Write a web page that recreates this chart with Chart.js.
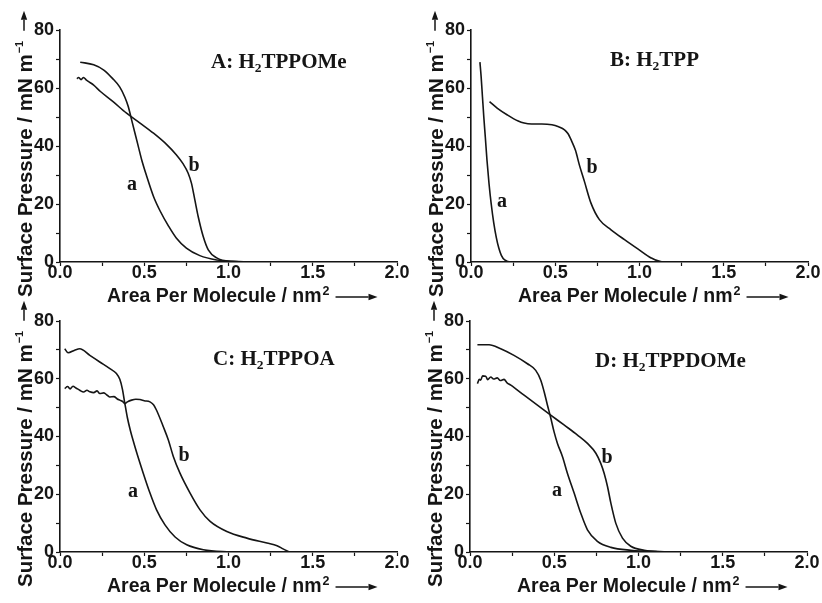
<!DOCTYPE html>
<html>
<head>
<meta charset="utf-8">
<script src="https://cdn.jsdelivr.net/npm/chart.js@4"></script>
<style>
  html, body { margin:0; padding:0; background:#fff; }
  #wrap { position:relative; width:822px; height:603px; overflow:hidden; }
  canvas { position:absolute; }
</style>
</head>
<body>
<div id="wrap">
  <canvas id="cA" width="411" height="310" style="left:0;top:0"></canvas>
  <canvas id="cB" width="411" height="310" style="left:411px;top:0"></canvas>
  <canvas id="cC" width="411" height="303" style="left:0;top:300px"></canvas>
  <canvas id="cD" width="411" height="303" style="left:410px;top:300px"></canvas>
</div>
<script>
/* ---------- data ---------- */
const xTickLabels = ["0.0", "0.5", "1.0", "1.5", "2.0"];
const yTickLabels = ["0", "20", "40", "60", "80"];
const panelLetters   = ["A", "B", "C", "D"];
const panelCompounds = ["TPPOMe", "TPP", "TPPOA", "TPPDOMe"];

// A: H2TPPOMe
const aArea_A  = [0.12, 0.2, 0.26, 0.31, 0.355, 0.385, 0.405, 0.425, 0.445, 0.465, 0.485, 0.515, 0.555, 0.595, 0.645, 0.69, 0.75, 0.83, 0.93, 1.03, 1.15, 1.85];
const aPress_A = [68.9, 68.0, 66.2, 63.4, 60.3, 56.8, 53.6, 49.0, 44.4, 39.8, 35.2, 29.5, 22.6, 17.5, 12.3, 8.3, 4.8, 2.2, 0.7, 0.2, 0, 0];
const bArea_A  = [0.10, 0.11, 0.125, 0.14, 0.155, 0.17, 0.2, 0.24, 0.315, 0.395, 0.475, 0.555, 0.635, 0.69, 0.73, 0.76, 0.78, 0.80, 0.82, 0.85, 0.88, 0.93, 1.01, 1.13, 1.85];
const bPress_A = [63.2, 63.6, 62.9, 63.6, 62.8, 62.2, 61.0, 58.8, 55.3, 51.3, 47.9, 44.4, 40.4, 37.0, 33.9, 30.7, 27.2, 21.5, 15.7, 8.8, 4.2, 1.4, 0.2, 0, 0];

// B: H2TPP
const aArea_B  = [0.053, 0.06, 0.068, 0.076, 0.085, 0.095, 0.107, 0.12, 0.135, 0.15, 0.165, 0.18, 0.2, 0.24, 0.58];
const aPress_B = [68.9, 64, 57, 50, 43, 35, 27, 20, 13.5, 8.5, 4.8, 2.3, 0.7, 0, 0];
const bArea_B  = [0.11, 0.157, 0.216, 0.28, 0.315, 0.36, 0.42, 0.48, 0.52, 0.555, 0.575, 0.595, 0.62, 0.643, 0.673, 0.712, 0.762, 0.831, 0.911, 0.99, 1.069, 1.139, 1.3];
const bPress_B = [55.3, 53.0, 50.7, 48.6, 47.9, 47.6, 47.6, 47.3, 46.6, 45.6, 44.3, 42.0, 38.5, 33.5, 27.8, 20.3, 14.6, 11.1, 7.7, 4.5, 1.4, 0, 0];

// C: H2TPPOA
const aArea_C  = [0.028, 0.048, 0.087, 0.117, 0.177, 0.236, 0.296, 0.335, 0.355, 0.37, 0.385, 0.40, 0.418, 0.437, 0.46, 0.494, 0.534, 0.573, 0.623, 0.683, 0.752, 0.851, 0.99, 1.07, 1.5];
const aPress_C = [70.4, 69.0, 69.9, 70.4, 68.1, 65.8, 63.5, 61.8, 59.8, 56.5, 51.4, 46.5, 42.0, 38.0, 33.5, 27.3, 20.4, 14.6, 9.4, 5.2, 2.5, 0.8, 0.1, 0, 0];
const bArea_C  = [0.028, 0.045, 0.06, 0.077, 0.095, 0.117, 0.14, 0.16, 0.177, 0.2, 0.22, 0.236, 0.26, 0.28, 0.296, 0.32, 0.34, 0.355, 0.37, 0.385, 0.40, 0.425, 0.45, 0.474, 0.50, 0.534, 0.555, 0.573, 0.613, 0.643, 0.673, 0.712, 0.772, 0.831, 0.891, 0.99, 1.109, 1.228, 1.288, 1.327, 1.367, 1.52];
const bPress_C = [56.6, 57.3, 56.5, 57.4, 56.8, 56.0, 55.4, 56.0, 55.5, 55.2, 55.8, 54.9, 55.1, 54.3, 53.7, 53.8, 53.0, 52.6, 52.2, 51.4, 52.0, 52.6, 52.9, 52.8, 52.4, 52.0, 51.0, 49.1, 43.4, 38.8, 33.0, 27.3, 20.4, 14.6, 10.6, 7.1, 4.8, 3.1, 2.2, 1.0, 0, 0];

// D: H2TPPDOMe
const aArea_D  = [0.044, 0.113, 0.182, 0.261, 0.341, 0.39, 0.42, 0.44, 0.459, 0.479, 0.499, 0.519, 0.549, 0.578, 0.618, 0.657, 0.697, 0.756, 0.836, 0.954, 1.113, 1.232, 1.5];
const aPress_D = [71.8, 71.8, 70.4, 68.1, 65.2, 62.9, 59.5, 55.5, 51.0, 46.5, 41.6, 37.6, 33.0, 27.3, 20.4, 13.5, 7.7, 3.7, 1.6, 0.6, 0.1, 0, 0];
const bArea_D  = [0.044, 0.055, 0.063, 0.075, 0.093, 0.105, 0.123, 0.14, 0.162, 0.18, 0.202, 0.22, 0.242, 0.321, 0.4, 0.479, 0.558, 0.638, 0.697, 0.747, 0.776, 0.796, 0.816, 0.836, 0.865, 0.905, 0.954, 1.034, 1.152, 1.271, 1.5];
const bPress_D = [58.3, 59.8, 59.5, 61.0, 60.9, 59.7, 60.6, 59.9, 60.3, 59.4, 59.8, 58.6, 57.8, 54.3, 50.9, 47.4, 44.0, 40.5, 37.6, 34.2, 30.7, 27.3, 22.7, 16.9, 10.0, 4.8, 2.0, 0.6, 0.1, 0, 0];

/* ---------- label anchors (data coords) ---------- */
const titleAt = [[0.896, 66.9], [0.825, 67.6], [0.908, 64.7], [0.742, 64.1]];
const aLabelAt = [[0.427, 26.5], [0.184, 20.7], [0.433, 20.8], [0.516, 21.1]];
const bLabelAt = [[0.795, 33.0], [0.718, 32.4], [0.736, 33.2], [0.813, 32.5]];

const SANS  = '"Liberation Sans", Arial, sans-serif';
const SERIF = '"Liberation Serif", "Times New Roman", serif';
const INK   = "#151515";

function arrow(ctx, x1, y1, x2, y2){
  const ang = Math.atan2(y2 - y1, x2 - x1), hl = 9, hw = 3.2;
  ctx.beginPath();
  ctx.moveTo(x1, y1);
  ctx.lineTo(x2 - hl * Math.cos(ang), y2 - hl * Math.sin(ang));
  ctx.lineWidth = 1.5;
  ctx.stroke();
  ctx.save();
  ctx.translate(x2, y2); ctx.rotate(ang);
  ctx.beginPath();
  ctx.moveTo(0, 0); ctx.lineTo(-hl, -hw); ctx.lineTo(-hl, hw); ctx.closePath();
  ctx.fill();
  ctx.restore();
}

const decor = {
  id: "decor",
  afterDraw(chart, args, o){
    const {ctx, chartArea: ca, scales:{x, y}} = chart;
    ctx.save();
    ctx.fillStyle = INK; ctx.strokeStyle = INK;
    ctx.textAlign = "left"; ctx.textBaseline = "alphabetic";

    /* x title + arrow */
    let tx = ca.left + 47, ty = ca.bottom + 40;
    ctx.font = "bold 19.5px " + SANS;
    const xt = "Area Per Molecule / nm";
    ctx.fillText(xt, tx, ty);
    tx += ctx.measureText(xt).width + 1;
    ctx.font = "bold 12.5px " + SANS;
    ctx.fillText("2", tx, ty - 7);
    tx += ctx.measureText("2").width + 6;
    arrow(ctx, tx, ty - 5, tx + 42, ty - 5);

    /* y title + arrow */
    ctx.save();
    ctx.translate(32, ca.bottom + 35);
    ctx.rotate(-Math.PI / 2);
    ctx.font = "bold 20.5px " + SANS;
    const yt = "Surface Pressure / mN m";
    ctx.fillText(yt, 0, 0);
    let ux = ctx.measureText(yt).width + 1;
    ctx.font = "bold 11px " + SANS;
    ctx.fillText("\u2212", ux, -9);
    ux += ctx.measureText("\u2212").width;
    ctx.fillText("1", ux, -9);
    ux += ctx.measureText("1").width + 10;
    arrow(ctx, ux, -8, ux + 20, -8);
    ctx.restore();

    /* panel caption with subscript */
    let px = x.getPixelForValue(o.title[0]), py = y.getPixelForValue(o.title[1]);
    ctx.font = "bold 21px " + SERIF;
    const pre = o.letter + ": H";
    ctx.fillText(pre, px, py);
    px += ctx.measureText(pre).width;
    ctx.font = "bold 13.5px " + SERIF;
    ctx.fillText("2", px, py + 4);
    px += ctx.measureText("2").width;
    ctx.font = "bold 21px " + SERIF;
    ctx.fillText(o.compound, px, py);

    /* curve letters */
    ctx.font = "bold 20px " + SERIF;
    ctx.textAlign = "center"; ctx.textBaseline = "middle";
    ctx.fillText("a", x.getPixelForValue(o.aAt[0]), y.getPixelForValue(o.aAt[1]));
    ctx.fillText("b", x.getPixelForValue(o.bAt[0]), y.getPixelForValue(o.bAt[1]));
    ctx.restore();
  }
};

function pts(xs, ys){ return xs.map((v, i) => ({x: v, y: ys[i]})); }

function makePanel(id, i, aX, aY, bX, bY, top, bottomPad){
  const line = d => ({
    data: d, showLine: true, pointRadius: 0, borderColor: INK, borderWidth: 1.6,
    cubicInterpolationMode: "monotone", fill: false
  });
  const tickFont = {family: SANS, weight: "bold", size: 18, lineHeight: 1};
  new Chart(document.getElementById(id), {
    type: "scatter",
    data: { datasets: [ line(pts(aX, aY)), line(pts(bX, bY)) ] },
    options: {
      responsive: false, animation: false, devicePixelRatio: 1,
      layout: { padding: { left: 0, right: 14, top: top, bottom: bottomPad } },
      plugins: {
        legend: { display: false }, tooltip: { enabled: false },
        decor: { letter: panelLetters[i], compound: panelCompounds[i],
                 title: titleAt[i], aAt: aLabelAt[i], bAt: bLabelAt[i] }
      },
      scales: {
        x: {
          type: "linear", min: 0, max: 2, position: "bottom",
          afterFit: s => { s.height = 20; },
          ticks: { stepSize: 0.25, autoSkip: false, maxRotation: 0, padding: -2,
                   color: INK, font: tickFont,
                   callback: v => { const s = v.toFixed(1); return (xTickLabels.includes(s) && Math.abs(v * 2 - Math.round(v * 2)) < 1e-6) ? s : ""; } },
          grid: { drawOnChartArea: false, drawTicks: true, tickLength: 4, tickColor: INK, tickWidth: 1.2 },
          border: { display: true, color: INK, width: 1.6 }
        },
        y: {
          min: 0, max: 80,
          afterFit: s => { s.width = 60; },
          ticks: { stepSize: 10, autoSkip: false, padding: 2, color: INK, font: tickFont,
                   callback: v => yTickLabels.includes(String(v)) ? String(v) : "" },
          grid: { drawOnChartArea: false, drawTicks: true, tickLength: 4, tickColor: INK, tickWidth: 1.2 },
          border: { display: true, color: INK, width: 1.6 }
        }
      }
    },
    plugins: [decor]
  });
}

makePanel("cA", 0, aArea_A, aPress_A, bArea_A, bPress_A, 30, 28);
makePanel("cB", 1, aArea_B, aPress_B, bArea_B, bPress_B, 30, 28);
makePanel("cC", 2, aArea_C, aPress_C, bArea_C, bPress_C, 21, 31);
makePanel("cD", 3, aArea_D, aPress_D, bArea_D, bPress_D, 21, 31);
</script>
</body>
</html>
